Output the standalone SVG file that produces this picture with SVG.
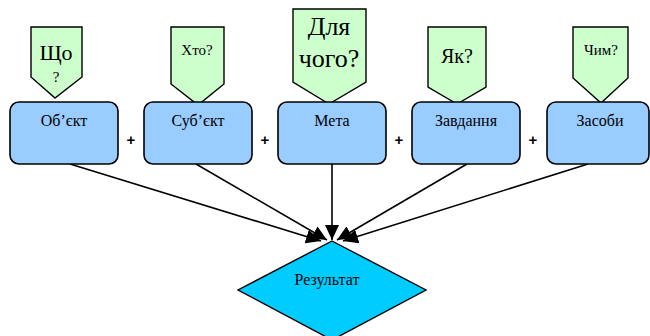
<svg xmlns="http://www.w3.org/2000/svg" width="650" height="336" viewBox="0 0 650 336">
<defs>
<style>
.box{fill:#99CCFF;stroke:#000;stroke-width:1.6}
.call{fill:#CCFFCC;stroke:#000;stroke-width:1.4}
.dia{fill:#00CCFF;stroke:#000;stroke-width:1.4}
.t{font-family:"Liberation Serif","Times New Roman","DejaVu Serif",serif;fill:#000;text-anchor:middle}
.plus{font-family:"Liberation Sans",Arial,sans-serif;font-weight:bold;font-size:15px;text-anchor:middle;fill:#000}
.conn{stroke:#000;stroke-width:1.6;fill:none}
</style>
<marker id="ah" markerUnits="userSpaceOnUse" markerWidth="16" markerHeight="14" refX="15" refY="7" orient="auto">
<path d="M0,0 L15,7 L0,14 Z" fill="#000"/>
</marker>
</defs>
<rect width="650" height="336" fill="#fff"/>

<g id="connectors">
<line class="conn" x1="70" y1="164" x2="321" y2="241" marker-end="url(#ah)"/>
<line class="conn" x1="196" y1="164" x2="327" y2="240" marker-end="url(#ah)"/>
<line class="conn" x1="332" y1="164" x2="332" y2="240" marker-end="url(#ah)"/>
<line class="conn" x1="467" y1="164" x2="337" y2="240" marker-end="url(#ah)"/>
<line class="conn" x1="588" y1="164" x2="343" y2="241" marker-end="url(#ah)"/>
</g>

<g id="n-object">
<polygon class="call" points="31,27 82,27 82,77 55,98 31,77"/>
<text class="t" x="56" y="60" font-size="22">Що</text>
<text class="t" x="56" y="82" font-size="15">?</text>
<rect class="box" x="10" y="102" width="108" height="62" rx="9"/>
<text class="t" x="64" y="126" font-size="16">Об’єкт</text>
</g>

<g id="n-subject">
<polygon class="call" points="171,27 224,27 224,84 198,105 171,84"/>
<text class="t" x="197" y="55" font-size="15">Хто?</text>
<rect class="box" x="144" y="102" width="108" height="62" rx="9"/>
<text class="t" x="198" y="126" font-size="16">Суб’єкт</text>
</g>

<g id="n-goal">
<polygon class="call" points="293,9 366,9 366,82 329,104 293,82"/>
<text class="t" x="329" y="35" font-size="26">Для</text>
<text class="t" x="329" y="67" font-size="26">чого?</text>
<rect class="box" x="278" y="102" width="108" height="62" rx="9"/>
<text class="t" x="332" y="126" font-size="16">Мета</text>
</g>

<g id="n-task">
<polygon class="call" points="428,27 486,27 486,87 457,104 428,87"/>
<text class="t" x="457" y="63" font-size="20">Як?</text>
<rect class="box" x="412" y="102" width="108" height="62" rx="9"/>
<text class="t" x="466" y="126" font-size="16">Завдання</text>
</g>

<g id="n-means">
<polygon class="call" points="573,27 628,27 628,78 601,103 573,78"/>
<text class="t" x="601" y="55" font-size="15">Чим?</text>
<rect class="box" x="547" y="102" width="102" height="62" rx="9"/>
<text class="t" x="600" y="126" font-size="16">Засоби</text>
</g>

<g id="plus-signs">
<text class="plus" x="131" y="145">+</text>
<text class="plus" x="265" y="145">+</text>
<text class="plus" x="399" y="145">+</text>
<text class="plus" x="533" y="145">+</text>
</g>

<g id="n-result">
<polygon class="dia" points="332,241 426,290 332,340 238,290"/>
<text class="t" x="327" y="285" font-size="16">Результат</text>
</g>
</svg>
